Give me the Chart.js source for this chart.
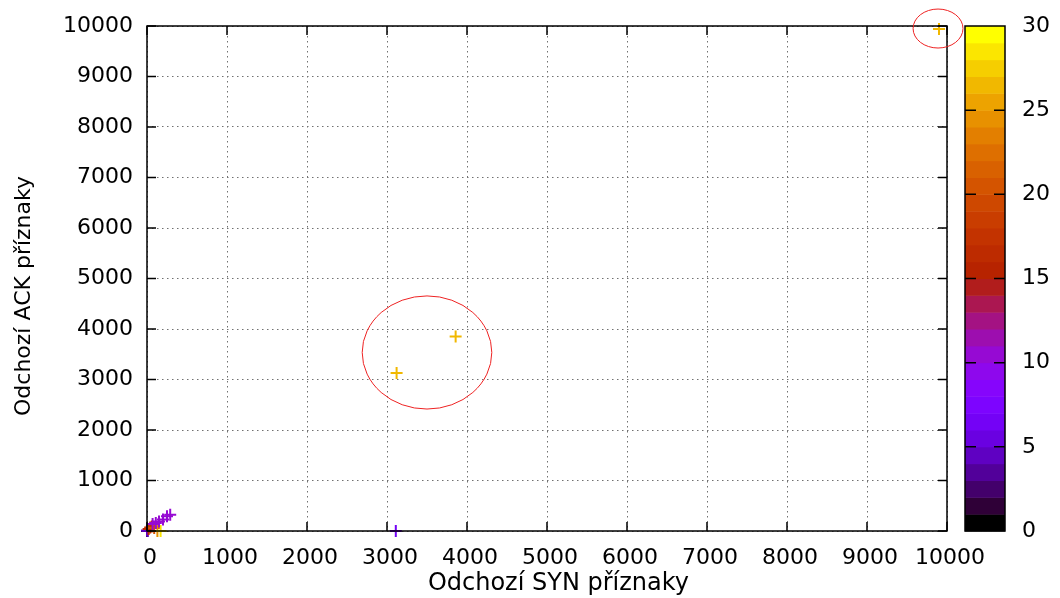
<!DOCTYPE html>
<html>
<head>
<meta charset="utf-8">
<script src="https://cdn.jsdelivr.net/npm/chart.js@4.4.0/dist/chart.umd.min.js"></script>
<style>
  html, body { margin: 0; padding: 0; background: #fff; }
</style>
</head>
<body>
<canvas id="grafica" width="1060" height="598"></canvas>
<script>
// Odchozí SYN / ACK příznaky, barva = třetí sloupec (0..30)
const synX  = [0, 10, 0, 20, 40, 60, 90, 130, 170, 70, 110, 150, 200, 250, 290, 3110, 3120, 3858, 9900];
const ackY  = [0, 0, 10, 40, 70, 90, 60, 0, 0, 140, 160, 190, 230, 290, 320, 0, 3130, 3850, 9940];
const barva = [1, 3, 4, 16, 16, 17, 20, 24, 28, 10, 10, 10, 10, 10, 10, 6, 26, 26, 26];

// červené kroužky (střed a poloosy v jednotkách grafu)
const krouzekX  = [3500, 9888];
const krouzekY  = [3535, 9950];
const krouzekRx = [810, 312];
const krouzekRy = [1120, 386];

const cbMin = 0, cbMax = 30, cbBarev = 30;

const pismo = 'DejaVu Sans';

// gnuplot paleta rgbformulae 7,5,15
function paleta(t) {
  const r = Math.sqrt(t);
  const g = Math.pow(t, 3);
  const b = Math.max(0, Math.sin(2 * Math.PI * t));
  return 'rgb(' + Math.round(r * 255) + ',' + Math.round(g * 255) + ',' + Math.round(b * 255) + ')';
}
function barvaHodnoty(v) {
  const i = Math.max(0, Math.min(cbBarev - 1, Math.floor((v - cbMin) / (cbMax - cbMin) * cbBarev)));
  return paleta(i / (cbBarev - 1));
}

const body = synX.map((x, i) => ({ x: x, y: ackY[i] }));
const barvy = barva.map(barvaHodnoty);

const ramecek = {
  id: 'ramecek',
  afterDatasetsDraw(chart) {
    const ctx = chart.ctx;
    const a = chart.chartArea;
    const sx = chart.scales.x, sy = chart.scales.y, cb = chart.scales.cb;
    const tl = 9;
    ctx.save();
    ctx.strokeStyle = '#000';
    ctx.lineWidth = 1.5;
    ctx.strokeRect(a.left, a.top, a.right - a.left, a.bottom - a.top);
    ctx.beginPath();
    sx.ticks.forEach(t => {
      const p = sx.getPixelForValue(t.value);
      ctx.moveTo(p, a.bottom); ctx.lineTo(p, a.bottom - tl);
      ctx.moveTo(p, a.top); ctx.lineTo(p, a.top + tl);
    });
    sy.ticks.forEach(t => {
      const p = sy.getPixelForValue(t.value);
      ctx.moveTo(a.left, p); ctx.lineTo(a.left + tl, p);
      ctx.moveTo(a.right, p); ctx.lineTo(a.right - tl, p);
    });
    ctx.stroke();

    // barevná škála
    const L = 965, R = 1005;
    for (let i = 0; i < cbBarev; i++) {
      const v0 = cbMin + i * (cbMax - cbMin) / cbBarev;
      const v1 = cbMin + (i + 1) * (cbMax - cbMin) / cbBarev;
      const y0 = cb.getPixelForValue(v0), y1 = cb.getPixelForValue(v1);
      ctx.fillStyle = paleta(i / (cbBarev - 1));
      ctx.fillRect(L, y1, R - L, y0 - y1 + 0.5);
    }
    ctx.strokeRect(L, cb.getPixelForValue(cbMax), R - L, cb.getPixelForValue(cbMin) - cb.getPixelForValue(cbMax));
    ctx.beginPath();
    cb.ticks.forEach(t => {
      if (t.value <= cbMin || t.value >= cbMax) return;
      const p = cb.getPixelForValue(t.value);
      ctx.moveTo(L, p); ctx.lineTo(L + 11, p);
      ctx.moveTo(R, p); ctx.lineTo(R - 11, p);
    });
    ctx.stroke();

    // kroužky
    ctx.strokeStyle = '#ee2222';
    ctx.lineWidth = 1;
    krouzekX.forEach((x, i) => {
      const cx = sx.getPixelForValue(x), cy = sy.getPixelForValue(krouzekY[i]);
      const rx = Math.abs(sx.getPixelForValue(x + krouzekRx[i]) - cx);
      const ry = Math.abs(sy.getPixelForValue(krouzekY[i] + krouzekRy[i]) - cy);
      ctx.beginPath();
      ctx.ellipse(cx, cy, rx, ry, 0, 0, 2 * Math.PI);
      ctx.stroke();
    });
    ctx.restore();
  }
};

const mrizka = { color: '#707070', lineWidth: 1, drawTicks: false };
const bezCarky = v => String(v);

new Chart(document.getElementById('grafica').getContext('2d'), {
  type: 'scatter',
  data: {
    datasets: [{
      data: body,
      pointStyle: 'cross',
      pointRadius: 6,
      pointHoverRadius: 6,
      borderWidth: 2,
      borderColor: barvy,
      backgroundColor: barvy,
      clip: false
    }]
  },
  options: {
    responsive: false,
    animation: false,
    events: [],
    layout: { padding: { top: 26, left: 0, right: 0, bottom: 0 } },
    plugins: { legend: { display: false }, tooltip: { enabled: false } },
    scales: {
      x: {
        type: 'linear', min: 0, max: 10000,
        ticks: { stepSize: 1000, color: '#000', font: { family: pismo, size: 22 }, padding: 14, labelOffset: 3, maxRotation: 0, callback: bezCarky },
        grid: mrizka,
        border: { display: false, dash: [1.5, 3.5] },
        title: { display: true, text: '   Odchozí SYN příznaky', color: '#000', font: { family: pismo, size: 24 }, padding: { top: 0, bottom: 0 } },
        afterFit(s) { s.height = 67; s.paddingLeft = 0; s.paddingRight = 0; }
      },
      y: {
        type: 'linear', min: 0, max: 10000,
        ticks: { stepSize: 1000, color: '#000', font: { family: pismo, size: 22 }, padding: 14, callback: bezCarky },
        grid: mrizka,
        border: { display: false, dash: [1.5, 3.5] },
        title: { display: true, text: 'Odchozí ACK příznaky     ', color: '#000', font: { family: pismo, size: 22 }, padding: { top: 11, bottom: 0 } },
        afterFit(s) { s.width = 147; s.paddingTop = 0; s.paddingBottom = 0; }
      },
      cb: {
        type: 'linear', position: 'right', min: cbMin, max: cbMax,
        ticks: { stepSize: 5, color: '#000', font: { family: pismo, size: 22 }, padding: 75 },
        grid: { display: false, drawTicks: false },
        border: { display: false },
        afterFit(s) { s.width = 113; s.paddingTop = 0; s.paddingBottom = 0; }
      }
    }
  },
  plugins: [ramecek]
});
</script>
</body>
</html>
